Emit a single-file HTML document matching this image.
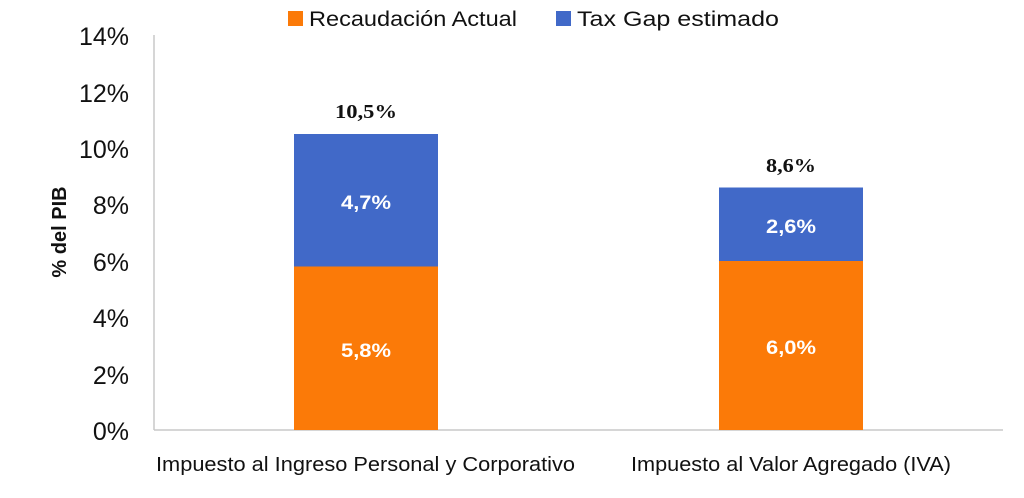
<!DOCTYPE html>
<html><head><meta charset="utf-8"><style>
body{margin:0;background:#fff;}
svg text{font-family:"Liberation Sans",sans-serif;}
</style></head><body>
<svg width="1024" height="493" viewBox="0 0 1024 493" xmlns="http://www.w3.org/2000/svg">
<rect width="1024" height="493" fill="#fff"/>
<line x1="154" y1="35" x2="154" y2="430" stroke="#c8c8c8" stroke-width="1.5"/>
<line x1="154" y1="430" x2="1003" y2="430" stroke="#c8c8c8" stroke-width="1.5"/>
<g font-size="25" fill="#111" text-anchor="end">
<text x="129" y="45">14%</text>
<text x="129" y="102">12%</text>
<text x="129" y="158">10%</text>
<text x="129" y="214">8%</text>
<text x="129" y="271">6%</text>
<text x="129" y="327">4%</text>
<text x="129" y="384">2%</text>
<text x="129" y="440">0%</text>
</g>
<text transform="translate(66,232) rotate(-90)" font-size="20" font-weight="bold" text-anchor="middle" fill="#111">% del PIB</text>
<rect x="294" y="134" width="144" height="132.5" fill="#4169c8"/>
<rect x="294" y="266.5" width="144" height="163.5" fill="#fb7a08"/>
<rect x="719" y="187.5" width="144" height="73.5" fill="#4169c8"/>
<rect x="719" y="261" width="144" height="169" fill="#fb7a08"/>
<g font-weight="bold" font-size="20" fill="#111">
<text x="335" y="118" textLength="62" lengthAdjust="spacingAndGlyphs" style="font-family:'Liberation Serif',serif">10,5%</text>
<text x="766" y="172" textLength="50" lengthAdjust="spacingAndGlyphs" style="font-family:'Liberation Serif',serif">8,6%</text>
</g>
<g font-weight="bold" font-size="19" fill="#fff">
<text x="341" y="209" textLength="50" lengthAdjust="spacingAndGlyphs">4,7%</text>
<text x="341" y="357" textLength="50" lengthAdjust="spacingAndGlyphs">5,8%</text>
<text x="766" y="233" textLength="50" lengthAdjust="spacingAndGlyphs">2,6%</text>
<text x="766" y="354" textLength="50" lengthAdjust="spacingAndGlyphs">6,0%</text>
</g>
<g font-size="20" fill="#111">
<text x="156" y="471" textLength="419" lengthAdjust="spacingAndGlyphs">Impuesto al Ingreso Personal y Corporativo</text>
<text x="631" y="471" textLength="320" lengthAdjust="spacingAndGlyphs">Impuesto al Valor Agregado (IVA)</text>
</g>
<rect x="288" y="11" width="15" height="15" fill="#fb7a08"/>
<text x="309" y="26" font-size="21" fill="#111" textLength="208" lengthAdjust="spacingAndGlyphs">Recaudación Actual</text>
<rect x="556" y="11" width="15" height="15" fill="#4169c8"/>
<text x="577" y="26" font-size="21" fill="#111" textLength="202" lengthAdjust="spacingAndGlyphs">Tax Gap estimado</text>
</svg>
</body></html>
